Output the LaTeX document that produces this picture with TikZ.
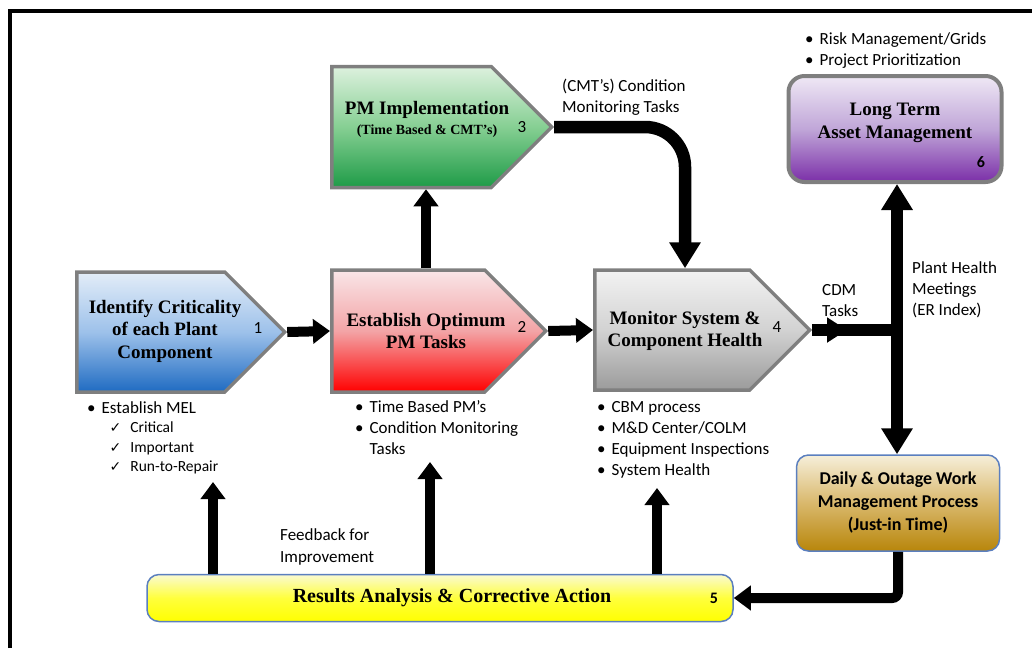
\documentclass[tikz,border=0pt]{standalone}
\usepackage{fontspec}
\setmainfont{Liberation Serif}
\setsansfont{Carlito}
\newfontfamily\chkfont{DejaVu Sans}
\usetikzlibrary{arrows.meta,shapes.symbols,calc}
\definecolor{edgegray}{HTML}{7F7F7F}
\definecolor{edgeblue}{HTML}{5B7FBF}
\definecolor{blutop}{HTML}{E3EDF8}\definecolor{blumid}{HTML}{9DC1EA}\definecolor{blubot}{HTML}{1F6BC2}
\definecolor{redtop}{HTML}{F9E6E8}\definecolor{redmid}{HTML}{F3A4A6}\definecolor{redbot}{HTML}{FF0000}
\definecolor{grntop}{HTML}{DDF1DE}\definecolor{grnmid}{HTML}{86CF93}\definecolor{grnbot}{HTML}{1E9B47}
\definecolor{grytop}{HTML}{F3F3F3}\definecolor{grymid}{HTML}{D2D2D2}\definecolor{grybot}{HTML}{9B9B9B}
\definecolor{purtop}{HTML}{EFE8F5}\definecolor{purmid}{HTML}{C0A6D8}\definecolor{purbot}{HTML}{7B2FA8}
\definecolor{gldtop}{HTML}{F6EFDA}\definecolor{gldmid}{HTML}{D9B86C}\definecolor{gldbot}{HTML}{B8860B}
\definecolor{yeltop}{HTML}{FAFAD2}\definecolor{yelmid}{HTML}{FFFF3C}\definecolor{yelbot}{HTML}{FFFF00}
\newcommand{\chk}{{\chkfont\fontsize{14}{14}\selectfont ✓}}
\tikzset{
  phase/.style={shape=signal, signal to=east, signal pointer angle=90, draw=edgegray,
                line width=3.5pt, inner sep=0pt, anchor=west,
                top color=#1top, bottom color=#1bot, middle color=#1mid},
  panel/.style={rectangle, rounded corners=12pt, inner sep=0pt, align=center,
                top color=#1top, bottom color=#1bot, middle color=#1mid},
  boxtxt/.style={align=center, inner sep=0pt, font=\fontsize{19}{22.5}\selectfont\bfseries},
  numtxt/.style={inner sep=0pt, font=\sffamily\fontsize{17}{17}\selectfont},
  note/.style={inner sep=0pt, anchor=base west, font=\sffamily\fontsize{17}{21}\selectfont},
  arr/.style={-{Triangle[length=17pt,width=24pt]}, line width=10pt},
  bigarr/.style={-{Triangle[length=26pt,width=30pt]}, line width=12.5pt},
}
\begin{document}
\begin{tikzpicture}[x=1pt, y=-1pt]
\useasboundingbox (0,0) rectangle (1032,648);
\draw[line width=4.5pt] (10,648) -- (10,11) -- (1032,11);

% phases 1 to 4
\node[phase=blu, minimum width=208pt, minimum height=120pt] (b1) at (75,332) {};
\node[phase=red, minimum width=214pt, minimum height=122pt] (b2) at (330,331) {};
\node[phase=grn, minimum width=220pt, minimum height=121pt] (b3) at (330,127) {};
\node[phase=gry, minimum width=215pt, minimum height=120pt] (b4) at (593,330) {};
\node[boxtxt] (t1) at (165,331) {Identify Criticality\\of each Plant\\Component};
\node[numtxt] (n1) at (258,328) {1};
\node[boxtxt] (t2) at (426,331) {Establish Optimum\\PM Tasks};
\node[numtxt] (n2) at (522,327) {2};
\node[boxtxt] (t3) at (427,110) {PM Implementation};
\node[boxtxt, font=\fontsize{14}{16}\selectfont\bfseries] (t3s) at (427,131) {(Time Based \& CMT's)};
\node[numtxt] (n3) at (522,127) {3};
\node[boxtxt] (t4) at (685,331) {Monitor System \&\\Component Health};
\node[numtxt] (n4) at (777,327) {4};

% rounded boxes
\node[panel=pur, draw=edgegray, line width=4pt, rounded corners=16pt, minimum width=213pt, minimum height=106pt] (b6) at (895,129) {};
\node[boxtxt] (t6) at (895,123) {Long Term\\Asset Management};
\node[numtxt, font=\sffamily\bfseries\fontsize{16}{16}\selectfont] (n6) at (981,162) {6};
\node[panel=gld, draw=edgeblue, line width=1.5pt, minimum width=203pt, minimum height=96pt,
      font=\sffamily\bfseries\fontsize{18}{23}\selectfont] (b7) at (898,503) {Daily \& Outage Work\\Management Process\\(Just-in Time)};
\node[panel=yel, draw=edgeblue, line width=1.5pt, minimum width=586pt, minimum height=47pt] (b5) at (440,598) {};
\node[boxtxt, font=\fontsize{20}{22}\selectfont\bfseries] (t5) at (452,598) {Results Analysis \& Corrective Action};
\node[numtxt, font=\sffamily\bfseries\fontsize{16}{16}\selectfont] (n5) at (714,598) {5};

% notes
\node[note, font=\sffamily\fontsize{17}{19.5}\selectfont] (l1) at (87,413) {\begin{tabular}[t]{@{}l@{\hspace{6pt}}l@{\hspace{9pt}}l@{}}
\textbullet & \multicolumn{2}{@{}l@{}}{Establish MEL}\\
 & \hspace*{8pt}\chk & \fontsize{15.5}{19.5}\selectfont Critical\\
 & \hspace*{8pt}\chk & \fontsize{15.5}{19.5}\selectfont Important\\
 & \hspace*{8pt}\chk & \fontsize{15.5}{19.5}\selectfont Run-to-Repair
\end{tabular}};
\node[note] (l2) at (355,412) {\begin{tabular}[t]{@{}l@{\hspace{6pt}}l@{}}
\textbullet & Time Based PM's\\ \textbullet & Condition Monitoring\\ & Tasks\end{tabular}};
\node[note] (l4) at (597,412) {\begin{tabular}[t]{@{}l@{\hspace{6pt}}l@{}}
\textbullet & CBM process\\ \textbullet & M\&D Center/COLM\\ \textbullet & Equipment Inspections\\ \textbullet & System Health\end{tabular}};
\node[note] (l6) at (805,44) {\begin{tabular}[t]{@{}l@{\hspace{6pt}}l@{}}
\textbullet & Risk Management/Grids\\ \textbullet & Project Prioritization\end{tabular}};
\node[note] (cmt) at (562,91) {\begin{tabular}[t]{@{}l@{}}(CMT's) Condition\\Monitoring Tasks\end{tabular}};
\node[note] (cdm) at (822,295) {\begin{tabular}[t]{@{}l@{}}CDM\\Tasks\end{tabular}};
\node[note] (ph) at (912,273) {\begin{tabular}[t]{@{}l@{}}Plant Health\\Meetings\\(ER Index)\end{tabular}};
\node[note, font=\sffamily\fontsize{17}{22}\selectfont] (fb) at (280,540) {\begin{tabular}[t]{@{}l@{}}Feedback for\\Improvement\end{tabular}};

% connectors
\coordinate (jn) at (897,330);
\coordinate (tip) at (847,330);
\coordinate (u1) at (213,482);
\coordinate (u2) at (430,462);
\coordinate (u3) at (657,488);
\draw[arr] (b1.east) -- (b2.west);
\draw[arr] (b2.east) -- (b4.west);
\draw[arr] (t2.center |- b2.north) -- (t2.center |- b3.south);
\draw[bigarr, rounded corners=40pt] (b3.east) -| (t4.center |- b4.north);
\draw[line width=12pt] (b4.east) -- (jn);
\draw[-{Triangle[length=20pt,width=24pt]}, line width=12pt] (b4.east) -- (tip);
\draw[bigarr, {Triangle[length=26pt,width=30pt]}-{Triangle[length=26pt,width=30pt]}] (jn |- b6.south) -- (jn |- b7.north);
\draw[arr, rounded corners=6pt] (b7.south) |- (b5.east);
\draw[arr] (u1 |- b5.north) -- (u1);
\draw[arr] (u2 |- b5.north) -- (u2);
\draw[arr] (u3 |- b5.north) -- (u3);
\end{tikzpicture}
\end{document}
